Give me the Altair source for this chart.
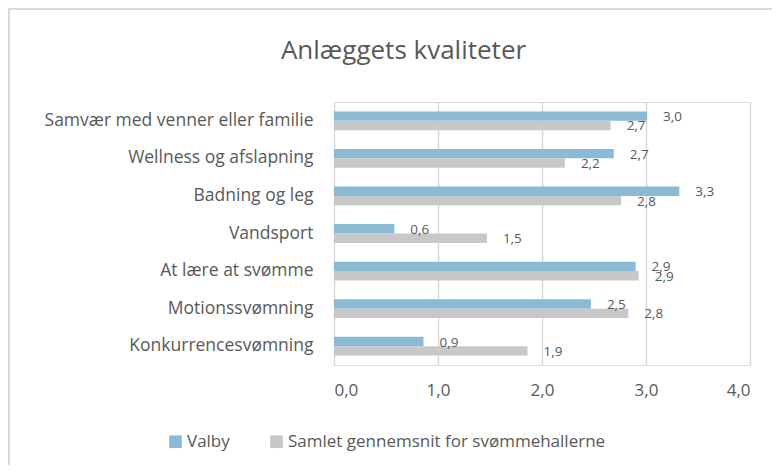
import altair as alt
import pandas as pd

title_text = "Anlæggets kvaliteter"
categories = [
    "Samvær med venner eller familie",
    "Wellness og afslapning",
    "Badning og leg",
    "Vandsport\u00a0",
    "At lære at svømme",
    "Motionssvømning",
    "Konkurrencesvømning",
]
series_names = ["Valby", "Samlet gennemsnit for svømmehallerne"]
valby = [3.01, 2.69, 3.32, 0.58, 2.90, 2.47, 0.86]
samlet = [2.66, 2.22, 2.76, 1.47, 2.93, 2.83, 1.86]
x_ticks = [0, 1, 2, 3, 4]

rows = []
for c, v in zip(categories, valby):
    rows.append({"kategori": c, "serie": series_names[0], "vaerdi": v})
for c, v in zip(categories, samlet):
    rows.append({"kategori": c, "serie": series_names[1], "vaerdi": v})
df = pd.DataFrame(rows)

FONT = "Open Sans"
GREY_TXT = "#595959"
BORDER = "#D9D9D9"

y_enc = alt.Y(
    "kategori:N",
    sort=categories,
    title=None,
    scale=alt.Scale(paddingInner=0.5, paddingOuter=0.25),
    axis=alt.Axis(
        ticks=False, domain=False, labelFontSize=17.5, labelColor=GREY_TXT,
        labelFont=FONT, labelPadding=21, labelLimit=400,
    ),
)
yoff = alt.YOffset("serie:N", sort=series_names)
x_enc = alt.X(
    "vaerdi:Q",
    title=None,
    scale=alt.Scale(domain=[0, 4], nice=False),
    axis=alt.Axis(
        values=x_ticks, format=".1f", ticks=False, domain=False,
        labelFontSize=17, labelColor=GREY_TXT, labelFont=FONT, labelPadding=17,
        gridColor=BORDER, gridWidth=1.5,
    ),
)

bars = alt.Chart(df).mark_bar().encode(
    y=y_enc,
    yOffset=yoff,
    x=x_enc,
    color=alt.Color(
        "serie:N",
        sort=series_names,
        scale=alt.Scale(domain=series_names, range=["#8BBAD5", "#C8C8C8"]),
        legend=alt.Legend(
            title=None, orient="none", direction="horizontal",
            legendX=-167, legendY=331, symbolType="square", symbolSize=160,
            symbolStrokeWidth=0, labelFontSize=17, labelColor=GREY_TXT,
            labelFont=FONT, labelOffset=3, columnPadding=38, labelLimit=400,
        ),
    ),
)

labels = alt.Chart(df).mark_text(
    align="left", baseline="middle", dx=16, dy=1, fontSize=13.5,
    font=FONT, color=GREY_TXT,
).encode(
    y=alt.Y("kategori:N", sort=categories),
    yOffset=yoff,
    x=alt.X("vaerdi:Q"),
    text=alt.Text("vaerdi:Q", format=".1f"),
)

frame_top = alt.Chart(alt.Data(values=[{"f": 1}])).mark_rule(
    color=BORDER, strokeWidth=2, clip=False,
).encode(
    x=alt.value(-326), x2=alt.value(446), y=alt.value(-93),
)
frame_left = alt.Chart(alt.Data(values=[{"f": 1}])).mark_rule(
    color=BORDER, strokeWidth=2, clip=False,
).encode(
    x=alt.value(-325), y=alt.value(-94), y2=alt.value(372),
)

title = alt.Chart(alt.Data(values=[{"t": title_text}])).mark_text(
    align="center", baseline="alphabetic", fontSize=26, font=FONT,
    color=GREY_TXT, clip=False,
).encode(
    x=alt.value(69.5), y=alt.value(-43), text="t:N",
)

chart = alt.layer(frame_top, frame_left, bars, labels, title).properties(
    width=416,
    height=263,
    padding={"left": 326, "top": 94, "right": 22, "bottom": 100},
    autosize=alt.AutoSizeParams(type="none"),
).configure_view(stroke=None).configure(
    locale=alt.Locale(number=alt.NumberLocale(
        decimal=",", thousands=".", grouping=[3], currency=["", " kr."]
    ))
)

chart.save("out.html", embed_options={"renderer": "svg", "actions": False})
